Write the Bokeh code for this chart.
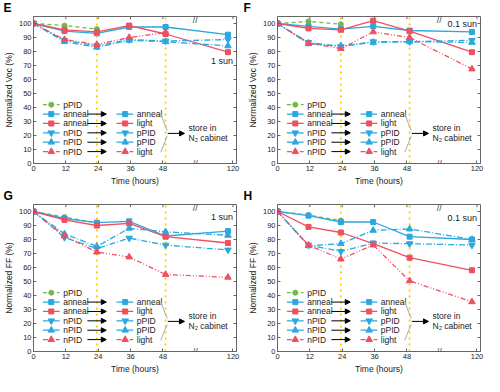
from bokeh.plotting import figure
from bokeh.layouts import column, row
from bokeh.models import FixedTicker, Label, Arrow, NormalHead, Range1d
from bokeh.core.properties import value
from bokeh.embed import file_html
from bokeh.resources import INLINE

# ---------------- data ----------------
hours = [0, 11.5, 23.5, 35.5, 49, 112]          # measurement times (h)
x_tick_hours = [0, 12, 24, 36, 48, 120]
y_ticks = list(range(0, 101, 10))
marked_idx = [2, 4]                               # yellow dotted lines at these times
BREAK_AT = 60                                     # axis break position (h)

E_pPID = [100, 98.5, 96]
E_ann_ann = [100, 94.5, 93, 97.5, 97.5, 92]
E_ann_light = [100, 95.5, 94, 98.5, 92.5, 79.5]
E_n_p_down = [100, 88, 84, 88.5, 87.5, 88.5]
E_n_p_up = [100, 87, 83, 88, 87, 84]
E_n_light = [100, 88.5, 85, 90, 93.5]

F_pPID = [100, 101.5, 99.5]
F_ann_ann = [100, 98, 96, 98, 95, 94]
F_ann_light = [100, 96.5, 95.5, 102, 94.5, 79.5]
F_n_p_down = [100, 86.5, 83.5, 87, 87, 88]
F_n_p_up = [100, 85.5, 84, 86.5, 87, 86.5]
F_n_light = [100, 86, 82, 94, 90, 67.5]

G_pPID = [100, 96, 92]
G_ann_ann = [100, 95, 92, 93, 82.5, 86]
G_ann_light = [100, 94, 90, 91.5, 82, 77.5]
G_n_p_down = [100, 81.5, 73.5, 81, 76, 72.5]
G_n_p_up = [100, 84, 75, 88, 85.5, 83]
G_n_light = [100, 82.5, 71, 67.5, 55, 53]

H_pPID = [100, 97.5, 93.5]
H_ann_ann = [100, 97, 92.5, 92.5, 82, 80]
H_ann_light = [100, 89, 85, 77, 67, 58]
H_n_p_down = [100, 76, 71.5, 77.5, 77, 76]
H_n_p_up = [100, 75.5, 77, 86.5, 87.5, 80]
H_n_light = [100, 76, 66, 76, 50.5, 35.5]

left_labels = ["pPID", "anneal", "anneal", "nPID", "nPID", "nPID"]
right_labels = [None, "anneal", "light", "pPID", "pPID", "light"]

# ---------------- styles ----------------
BLUE = "#2aa8df"
RED = "#f04f5f"
GREEN = "#72b84a"
YELLOW = "#ffcc00"
AXC = "#666666"
FONT = "Liberation Sans"
XMAX, YMAX = 75.3, 105
styles = [
    dict(color=GREEN, dash="4 3", marker="circle", size=5),
    dict(color=BLUE, dash="solid", marker="square", size=5),
    dict(color=RED, dash="solid", marker="square", size=5),
    dict(color=BLUE, dash="6 2 1 2", marker="inverted_triangle", size=6.5),
    dict(color=BLUE, dash="6 2 1 2", marker="triangle", size=6.5),
    dict(color=RED, dash="5 2 1 2 1 2", marker="triangle", size=6.5),
]


def ax(t):
    """broken time axis: linear up to the break, compressed after it"""
    return t if t <= BREAK_AT else BREAK_AT + (t - BREAK_AT) * 14 / 60


def make_panel(letter, ylabel, series, sun, sun_y, width, height, bl, br, bt, bb):
    p = figure(width=width, height=height, x_range=Range1d(0, XMAX), y_range=Range1d(0, YMAX),
               output_backend="svg", toolbar_location=None,
               min_border_left=bl, min_border_right=br, min_border_top=bt, min_border_bottom=bb)
    p.grid.visible = False
    p.outline_line_color = AXC
    p.background_fill_color = "white"
    p.border_fill_color = "white"

    # panel letter as the figure title, pushed to the canvas' top-left corner
    p.title.text = letter
    p.title.align = "left"
    p.title.vertical_align = "top"
    p.title.offset = -(bl - 1)
    p.title.standoff = 0
    p.title.text_line_height = 0.55
    p.title.text_font = FONT
    p.title.text_font_size = "12px"
    p.title.text_font_style = "bold"
    p.title.text_color = "black"

    xt = [ax(t) for t in x_tick_hours]
    p.xaxis.ticker = FixedTicker(ticks=xt, minor_ticks=[])
    p.xaxis.major_label_overrides = {ax(120): "120"}
    p.yaxis.ticker = FixedTicker(ticks=y_ticks, minor_ticks=[])
    p.xaxis.axis_label = "Time (hours)"
    p.yaxis.axis_label = ylabel
    for a in (p.xaxis[0], p.yaxis[0]):
        a.axis_line_color = AXC
        a.major_tick_line_color = AXC
        a.major_tick_in = 3
        a.major_tick_out = 0
        a.major_label_text_font = FONT
        a.major_label_text_font_size = "7.5px"
        a.major_label_text_color = "#222222"
        a.major_label_standoff = 2
        a.axis_label_text_font = FONT
        a.axis_label_text_font_size = "8.5px"
        a.axis_label_text_font_style = "normal"
        a.axis_label_text_color = "#222222"
        a.axis_label_standoff = 2

    fw = width - bl - br
    fh = height - bt - bb
    tx = 3 * XMAX / fw
    ty = 3 * YMAX / fh
    p.segment(x0=xt, y0=[YMAX] * len(xt), x1=xt, y1=[YMAX - ty] * len(xt),
              line_color=AXC, line_width=1)
    p.segment(x0=[XMAX] * len(y_ticks), y0=y_ticks, x1=[XMAX - tx] * len(y_ticks), y1=y_ticks,
              line_color=AXC, line_width=1)

    for i in marked_idx:
        p.segment(x0=[ax(hours[i])], y0=[0], x1=[ax(hours[i])], y1=[YMAX],
                  line_color=YELLOW, line_width=1.8, line_dash="2 4")

    for vals, st in zip(series, styles):
        xs = [ax(t) for t in hours[:len(vals)]]
        p.line(xs, vals, line_color=st["color"], line_width=1.3, line_dash=st["dash"])
        p.scatter(xs, vals, marker=st["marker"], size=st["size"],
                  fill_color=st["color"], line_color=st["color"])

    leg_top, leg_step = 42, 6.7
    for k, st in enumerate(styles):
        y = leg_top - k * leg_step
        p.line([3.5, 9.7], [y, y], line_color=st["color"], line_width=1.3, line_dash=st["dash"])
        p.scatter([6.6], [y], marker=st["marker"], size=st["size"],
                  fill_color=st["color"], line_color=st["color"])
        p.text([11], [y], text=[left_labels[k]], text_font=value(FONT), text_font_size="8.5px",
               text_baseline="middle", text_color="#222222")
        if right_labels[k] is not None:
            p.add_layout(Arrow(end=NormalHead(size=5, fill_color="black", line_color="black"),
                               x_start=20, y_start=y, x_end=27, y_end=y,
                               line_color="black", line_width=1))
            p.line([30.8, 37], [y, y], line_color=st["color"], line_width=1.3, line_dash=st["dash"])
            p.scatter([34], [y], marker=st["marker"], size=st["size"],
                      fill_color=st["color"], line_color=st["color"])
            p.text([38.3], [y], text=[right_labels[k]], text_font=value(FONT),
                   text_font_size="8.5px", text_baseline="middle", text_color="#222222")
    p.line([47.2, 49.6], [35.5, 23.5], line_color="#aaaaaa", line_width=1)
    p.line([49.6, 47.2], [19.5, 8], line_color="#aaaaaa", line_width=1)
    p.add_layout(Arrow(end=NormalHead(size=5, fill_color="black", line_color="black"),
                       x_start=49.8, y_start=21.5, x_end=56, y_end=21.5,
                       line_color="black", line_width=1))
    p.text([57.5, 57.5], [25.5, 18], text=["store in", "N\u2082 cabinet"], text_font=value(FONT),
           text_font_size="8.5px", text_baseline="middle", text_color="#222222")

    p.text([74], [sun_y], text=[sun], text_font=value(FONT), text_font_size="9px",
           text_align="right", text_baseline="middle", text_color="#222222")

    p.add_layout(Label(x=BREAK_AT, y=0, text="//", text_font=FONT, text_font_size="9px",
                       text_align="center", text_baseline="middle", text_color="#444444"))
    p.add_layout(Label(x=BREAK_AT, y=YMAX, y_offset=-3, text="//", text_font=FONT,
                       text_font_size="9px", text_align="center", text_baseline="middle",
                       text_color="#444444"))
    return p


W, H = 242, 188
pE = make_panel("E", "Normalized Voc (%)",
                [E_pPID, E_ann_ann, E_ann_light, E_n_p_down, E_n_p_up, E_n_light],
                "1 sun", 73, W, H, 31, 6, 2, 24)
pF = make_panel("F", "Normalized Voc (%)",
                [F_pPID, F_ann_ann, F_ann_light, F_n_p_down, F_n_p_up, F_n_light],
                "0.1 sun", 99.5, W, H, 35, 4, 2, 24)
pG = make_panel("G", "Normalized FF (%)",
                [G_pPID, G_ann_ann, G_ann_light, G_n_p_down, G_n_p_up, G_n_light],
                "1 sun", 96, W, H, 31, 6, 2, 24)
pH = make_panel("H", "Normalized FF (%)",
                [H_pPID, H_ann_ann, H_ann_light, H_n_p_down, H_n_p_up, H_n_light],
                "0.1 sun", 95.5, W, H, 35, 4, 2, 24)

layout = column(row(pE, pF), row(pG, pH))
open("out.html", "w").write(file_html(layout, INLINE))
